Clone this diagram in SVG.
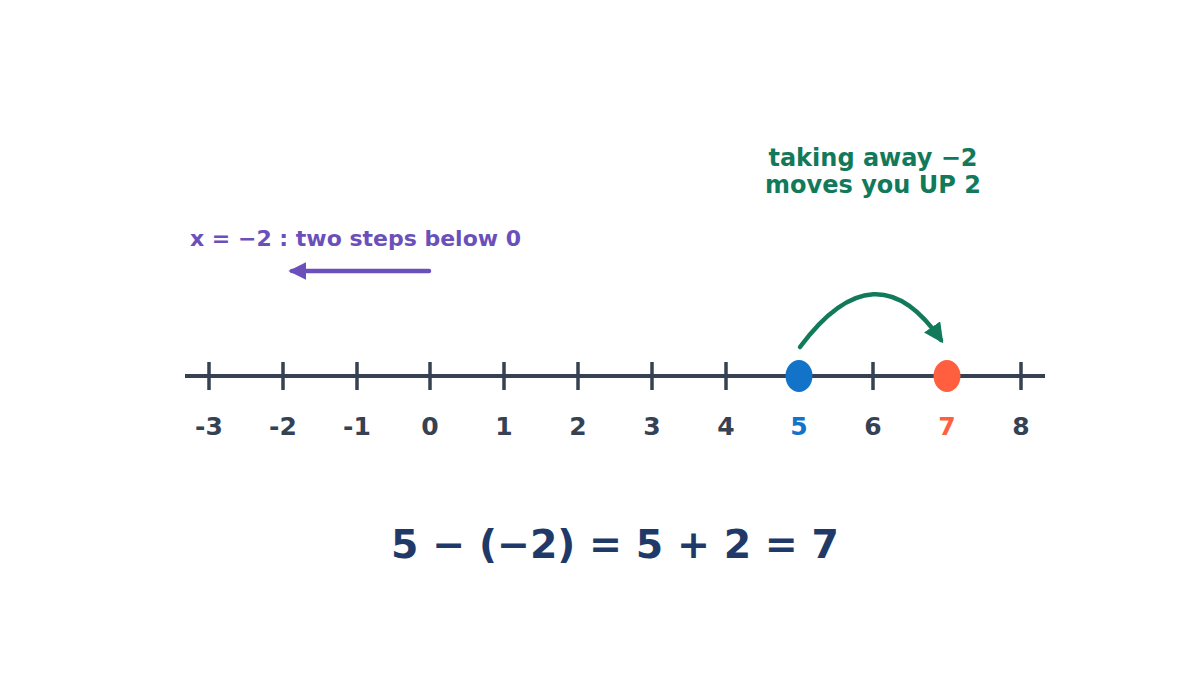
<svg xmlns="http://www.w3.org/2000/svg" width="1200" height="675" viewBox="0 0 1200 675">
<defs>
<style>
.t{font-family:"DejaVu Sans","Liberation Sans",sans-serif;font-weight:bold}
.tick{stroke:#364152;stroke-width:3.5}
.lbl{font-size:25px;fill:#364152;text-anchor:middle}
</style>
<marker id="ag" viewBox="0 0 10 10" refX="8" refY="5" markerWidth="4.4" markerHeight="4.4" orient="auto" markerUnits="strokeWidth"><path d="M0,0 L10,5 L0,10 z" fill="#127a5a"/></marker>
<marker id="ap" viewBox="0 0 10 10" refX="8" refY="5" markerWidth="4" markerHeight="4" orient="auto" markerUnits="strokeWidth"><path d="M0,0 L10,5 L0,10 z" fill="#6b4fbb"/></marker>
</defs>
<rect width="1200" height="675" fill="#fff"/>
<g id="axis">
<line x1="185" y1="376" x2="1045" y2="376" stroke="#364152" stroke-width="4"/>
<line class="tick" x1="209" y1="362" x2="209" y2="390"/>
<line class="tick" x1="283" y1="362" x2="283" y2="390"/>
<line class="tick" x1="357" y1="362" x2="357" y2="390"/>
<line class="tick" x1="430" y1="362" x2="430" y2="390"/>
<line class="tick" x1="504" y1="362" x2="504" y2="390"/>
<line class="tick" x1="578" y1="362" x2="578" y2="390"/>
<line class="tick" x1="652" y1="362" x2="652" y2="390"/>
<line class="tick" x1="726" y1="362" x2="726" y2="390"/>
<line class="tick" x1="873" y1="362" x2="873" y2="390"/>
<line class="tick" x1="1021" y1="362" x2="1021" y2="390"/>
</g>
<g id="labels" class="t">
<text class="lbl" x="209" y="435">-3</text>
<text class="lbl" x="283" y="435">-2</text>
<text class="lbl" x="357" y="435">-1</text>
<text class="lbl" x="430" y="435">0</text>
<text class="lbl" x="504" y="435">1</text>
<text class="lbl" x="578" y="435">2</text>
<text class="lbl" x="652" y="435">3</text>
<text class="lbl" x="726" y="435">4</text>
<text class="lbl" x="799" y="435" style="fill:#1273c9">5</text>
<text class="lbl" x="873" y="435">6</text>
<text class="lbl" x="947" y="435" style="fill:#ff5f3f">7</text>
<text class="lbl" x="1021" y="435">8</text>
</g>
<g id="point5"><ellipse cx="799" cy="376" rx="13.5" ry="16" fill="#1273c9"/></g>
<g id="point7"><ellipse cx="947" cy="376" rx="13.5" ry="16" fill="#ff5f3f"/></g>
<g id="connectors" fill="none" stroke-linecap="round">
<path d="M800,347 Q876,245 941,340" stroke="#127a5a" stroke-width="4.5" marker-end="url(#ag)"/>
<line x1="429" y1="271" x2="292" y2="271" stroke="#6b4fbb" stroke-width="4.5" marker-end="url(#ap)"/>
</g>
<g id="note-green" class="t" fill="#127a5a" font-size="24" text-anchor="middle">
<text x="873" y="166">taking away −2</text>
<text x="873" y="193">moves you UP 2</text>
</g>
<g id="note-purple" class="t" fill="#6b4fbb" font-size="22">
<text x="190" y="246">x = −2 : two steps below 0</text>
</g>
<g id="equation" class="t"><text x="615" y="558" font-size="39.4" fill="#1f3a68" text-anchor="middle">5 − (−2) = 5 + 2 = 7</text></g>
</svg>
